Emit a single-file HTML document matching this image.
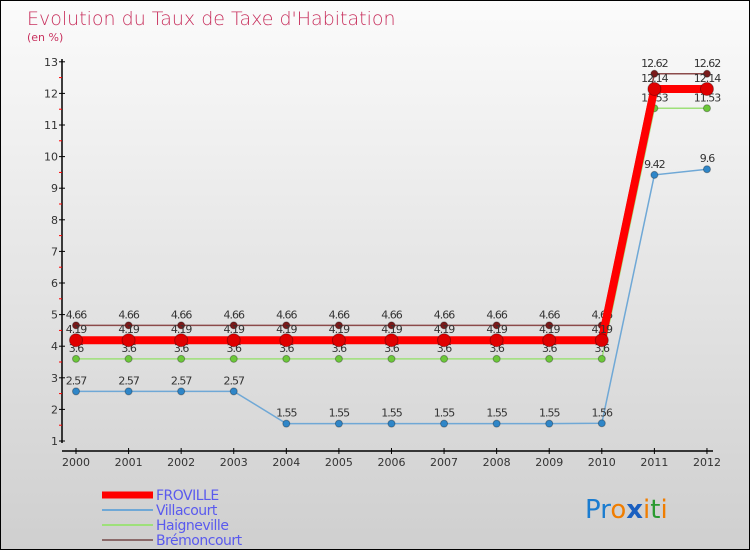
<!DOCTYPE html>
<html><head><meta charset="utf-8"><style>
body{margin:0;}
#c{width:748px;height:548px;border:1px solid #000;background:linear-gradient(#fbfbfb,#cfcfcf);position:relative;font-family:"DejaVu Sans","Liberation Sans",sans-serif;overflow:hidden}
text{font-family:"DejaVu Sans","Liberation Sans",sans-serif}
</style></head><body>
<div id="c">
<svg id="s" width="748" height="548">
<text x="26" y="24" font-size="19" fill="#c8315e" style="font-weight:200">Evolution du Taux de Taxe d'Habitation</text>
<text x="26" y="40" font-size="11" fill="#c8315e">(en %)</text>
<text x="584" y="517" font-size="26"><tspan fill="#1a7cd0">Pr</tspan><tspan fill="#f07d00">o</tspan><tspan fill="#1a5fc0" font-weight="bold">x</tspan><tspan fill="#f07d00">i</tspan><tspan fill="#2a9a30">t</tspan><tspan fill="#f07d00">i</tspan></text>
</svg>
</div>
<script>
const years=[2000,2001,2002,2003,2004,2005,2006,2007,2008,2009,2010,2011,2012];
const froville=[4.19,4.19,4.19,4.19,4.19,4.19,4.19,4.19,4.19,4.19,4.19,12.14,12.14];
const villacourt=[2.57,2.57,2.57,2.57,1.55,1.55,1.55,1.55,1.55,1.55,1.56,9.42,9.6];
const haigneville=[3.6,3.6,3.6,3.6,3.6,3.6,3.6,3.6,3.6,3.6,3.6,11.53,11.53];
const bremoncourt=[4.66,4.66,4.66,4.66,4.66,4.66,4.66,4.66,4.66,4.66,4.66,12.62,12.62];
const yTicks=[1,2,3,4,5,6,7,8,9,10,11,12,13];
const NS="http://www.w3.org/2000/svg",s=document.getElementById('s');
const X=i=>75+i*52.58, Y=v=>440-(v-1)*31.6;
function el(t,a,p){const e=document.createElementNS(NS,t);for(const k in a)e.setAttribute(k,a[k]);(p||s).appendChild(e);return e;}
let e;
e=el('line',{x1:61,y1:58,x2:61,y2:442,stroke:'#000','stroke-width':1.5});


e=el('line',{x1:61,y1:450,x2:712,y2:450,stroke:'#000','stroke-width':1.5});


yTicks.forEach(v=>{
 el('line',{x1:58,y1:Y(v),x2:64,y2:Y(v),stroke:'#000'});
 if(v<13)el('line',{x1:58,y1:Y(v+0.5),x2:61,y2:Y(v+0.5),stroke:'#f00'});
 e=el('text',{x:57,y:Y(v)+4,'font-size':11,'text-anchor':'end',fill:'#333'});e.textContent=v;
 
 
});
years.forEach((y,i)=>{
 el('line',{x1:X(i),y1:447,x2:X(i),y2:453,stroke:'#000'});
 e=el('text',{x:X(i),y:465,'font-size':11,'text-anchor':'middle',fill:'#333'});e.textContent=y;
 
 
});
function series(d,col,w,r,name,dot){
 const g=el('g',{});
 
 
 el('polyline',{points:d.map((v,i)=>X(i)+','+Y(v)).join(' '),fill:'none',stroke:col,'stroke-width':w},g);
 d.forEach((v,i)=>{
  const c=el('circle',{cx:X(i),cy:Y(v),r:r,fill:dot,stroke:'rgba(0,0,0,0.3)'},g);
  
  
  const t=el('text',{x:X(i),y:Y(v)-7,'font-size':11,'text-anchor':'middle',fill:'#333','letter-spacing':'-1'},g);
  t.textContent=v;
  
  
 });
}
series(villacourt,'#6fa8d6',1.5,3.5,'villacourt','#2f86c8');
series(haigneville,'#9ee07a',1.5,3.5,'haigneville','#6cc83a');
series(bremoncourt,'#8b4a4a',1.5,3.5,'bremoncourt','#7a1a1a');
series(froville,'#f00',8,6.5,'froville','#e00000');
const leg=[['FROVILLE','#f00',7],['Villacourt','#6fa8d6',2],['Haigneville','#9ee07a',2],['Brémoncourt','#8b6a6a',2]];
leg.forEach((l,i)=>{
 const y=494+i*15;
 el('line',{x1:101,y1:y,x2:152,y2:y,stroke:l[1],'stroke-width':l[2]});
 const t=el('text',{x:155,y:y+5,'font-size':14,fill:'#5a5aee','letter-spacing':'-0.5'});t.textContent=l[0];
 
 
});
</script>
</body></html>
